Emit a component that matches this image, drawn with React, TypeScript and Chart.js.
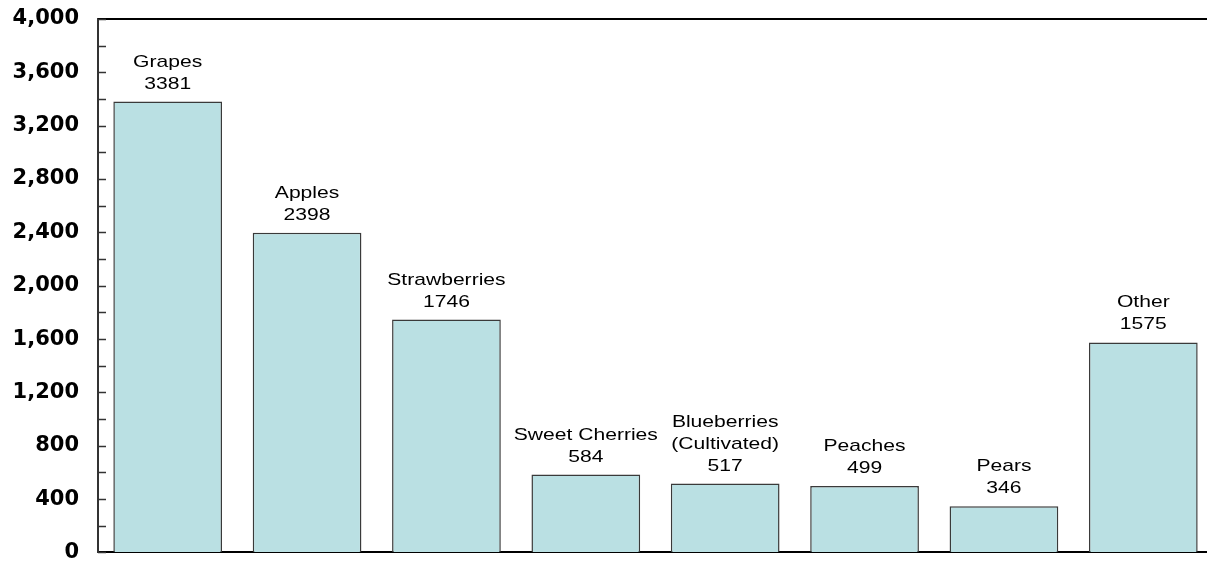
import React, { useEffect, useRef } from "react";
import { Chart, registerables } from "chart.js";

Chart.register(...registerables);

const categories: (string | string[])[] = [
  "Grapes",
  "Apples",
  "Strawberries",
  "Sweet Cherries",
  ["Blueberries", "(Cultivated)"],
  "Peaches",
  "Pears",
  "Other",
];
const values: number[] = [3381, 2398, 1746, 584, 517, 499, 346, 1575];
const yMin = 0;
const yMax = 4000;
const yStep = 200;
const yLabelStep = 400;

const barLabelPlugin = {
  id: "barLabels",
  afterDatasetsDraw(chart: any) {
    const ctx = chart.ctx;
    const meta = chart.getDatasetMeta(0);
    ctx.save();
    ctx.fillStyle = "#000";
    ctx.font = "17px 'Liberation Sans', Arial, sans-serif";
    ctx.textAlign = "center";
    ctx.textBaseline = "alphabetic";
    meta.data.forEach((el: any, i: number) => {
      const cat = categories[i];
      const lines = (Array.isArray(cat) ? cat.slice() : [cat]).concat([String(values[i])]);
      const lineH = 22;
      let baseline = el.y - 13 - (lines.length - 1) * lineH;
      lines.forEach((ln) => {
        ctx.save();
        ctx.translate(el.x, baseline);
        ctx.scale(1.24, 1);
        ctx.fillText(ln, 0, 0);
        ctx.restore();
        baseline += lineH;
      });
    });
    ctx.restore();
  },
};

const framePlugin = {
  id: "frame",
  afterDraw(chart: any) {
    const ctx = chart.ctx;
    const area = chart.chartArea;
    const y = chart.scales.y;
    ctx.save();
    ctx.strokeStyle = "#000";
    ctx.lineWidth = 2;
    ctx.beginPath();
    ctx.moveTo(area.left, area.top);
    ctx.lineTo(area.right, area.top);
    ctx.stroke();
    ctx.strokeStyle = "#333";
    ctx.lineWidth = 1.5;
    y.ticks.forEach((t: any) => {
      const py = Math.round(y.getPixelForValue(t.value)) + 0.5;
      ctx.beginPath();
      ctx.moveTo(area.left, py);
      ctx.lineTo(area.left + 8, py);
      ctx.stroke();
    });
    ctx.restore();
  },
};

export default function App() {
  const ref = useRef<HTMLCanvasElement | null>(null);
  useEffect(() => {
    if (!ref.current) return;
    const chart = new Chart(ref.current, {
      type: "bar",
      data: {
        labels: categories as any,
        datasets: [
          {
            data: values,
            backgroundColor: "#BAE0E3",
            borderColor: "#3a3a3a",
            borderWidth: 1.5,
            barPercentage: 0.78,
            categoryPercentage: 1,
          },
        ],
      },
      options: {
        animation: false,
        responsive: false,
        devicePixelRatio: 1,
        layout: { padding: { top: 19, bottom: 9, left: 0, right: 0 } },
        plugins: { legend: { display: false }, tooltip: { enabled: false } },
        scales: {
          x: {
            grid: { display: false, drawTicks: false },
            ticks: { display: false },
            border: { display: true, color: "#000", width: 2 },
            afterFit(scale: any) {
              scale.height = 0;
            },
          },
          y: {
            min: yMin,
            max: yMax,
            grid: {
              display: true,
              drawOnChartArea: false,
              drawTicks: true,
              tickLength: 10,
              color: "rgba(0,0,0,0)",
            },
            border: { display: true, color: "#333", width: 2 },
            ticks: {
              stepSize: yStep,
              autoSkip: false,
              padding: 9,
              color: "#000",
              font: { family: "'DejaVu Sans', sans-serif", size: 21, weight: "bold", lineHeight: 0.05 },
              callback: (v: any) =>
                Number(v) % yLabelStep === 0 ? Number(v).toLocaleString("en-US") : "",
            },
            afterFit(scale: any) {
              scale.width = 98;
            },
          },
        },
      },
      plugins: [barLabelPlugin, framePlugin],
    });
    return () => chart.destroy();
  }, []);
  return (
    <div
      style={{
        position: "fixed",
        left: 0,
        top: 0,
        width: 1207,
        height: 562,
        overflow: "hidden",
        background: "#fff",
      }}
    >
      <canvas ref={ref} width={1213} height={562} style={{ display: "block" }} />
    </div>
  );
}
